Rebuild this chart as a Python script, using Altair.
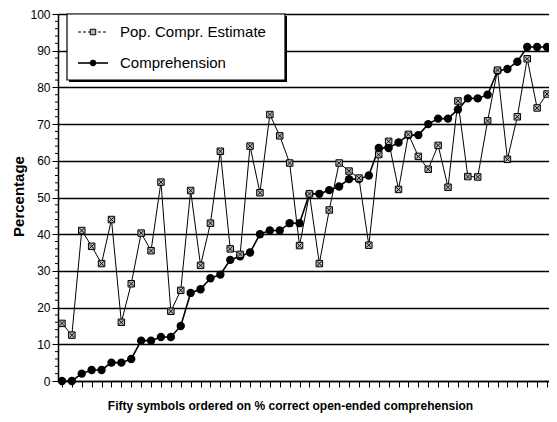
import altair as alt
import pandas as pd

symbols = list(range(1, 51))
comprehension = [0, 0, 2, 3, 3, 5, 5, 6, 11, 11,
                 12, 12, 15, 24, 25, 28, 29, 33, 34, 35,
                 40, 41, 41, 43, 43, 51, 51, 52, 53, 55,
                 55, 56, 63.5, 63.5, 65, 67, 67, 70, 71.5, 71.5,
                 74, 77, 77, 78, 84.5, 85, 87, 91, 91, 91]
pop_estimate = [15.7, 12.5, 41, 36.7, 32, 44, 16, 26.5, 40.3, 35.5,
                54.2, 19, 24.7, 51.9, 31.5, 43, 62.6, 36, 34.5, 64,
                51.3, 72.6, 66.8, 59.4, 36.9, 51, 32, 46.6, 59.4, 57.2,
                55.3, 37, 61.7, 65.3, 52.2, 67.2, 61.2, 57.7, 64.2, 52.8,
                76.3, 55.7, 55.6, 70.9, 84.7, 60.4, 72, 87.8, 74.4, 78.2]
series_names = ["Pop. Compr. Estimate", "Comprehension"]
y_major = list(range(0, 101, 10))
y_minor = [v for v in range(0, 101, 2) if v % 10]
x_title = "Fifty symbols ordered on % correct open-ended comprehension"
y_title = "Percentage"

FONT = "Liberation Sans"

df = pd.DataFrame({"symbol": symbols, "comp": comprehension, "pop": pop_estimate})
minor_df = pd.DataFrame({"v": y_minor})

xscale = alt.Scale(domain=[0.6, 50.2], nice=False, zero=False)
yscale = alt.Scale(domain=[0, 100], nice=False)

xaxis = alt.Axis(values=symbols, labels=False, grid=False, tickSize=6,
                 tickColor="black", tickWidth=1, domainColor="black", domainWidth=1.5,
                 title=x_title, titleFont=FONT, titleFontSize=12, titleFontWeight="bold",
                 titleColor="black", titleX=232, titleY=28, titleAlign="center",
                 titleBaseline="alphabetic")
yaxis = alt.Axis(values=y_major, grid=True, gridColor="black", gridWidth=1.3,
                 gridOpacity=1, tickSize=6, tickColor="black", tickWidth=1,
                 domainColor="black", domainWidth=1.5, labelFont=FONT,
                 labelFontSize=12, labelColor="black", labelPadding=2,
                 title=y_title, titleFont=FONT, titleFontSize=15,
                 titleFontWeight="bold", titleColor="black", titleAngle=270,
                 titleX=-40, titleY=182, titleAlign="center", titleBaseline="middle")


def X(field):
    return alt.X(field, type="quantitative", scale=xscale, axis=xaxis)


def Y(field):
    return alt.Y(field, type="quantitative", scale=yscale, axis=yaxis)


base = alt.Chart(df)

pop_line = base.mark_line(color="black", strokeWidth=1).encode(x=X("symbol"), y=Y("pop"))
comp_line = base.mark_line(color="black", strokeWidth=1.6).encode(x=X("symbol"), y=Y("comp"))
comp_pts = base.mark_circle(color="black", size=70, opacity=1).encode(x=X("symbol"), y=Y("comp"))
pop_sq = base.mark_point(shape="square", filled=True, fill="#b4b4b4", stroke="black",
                         strokeWidth=1, size=42, opacity=1).encode(x=X("symbol"), y=Y("pop"))
pop_x = base.mark_point(shape="M-1,-1L1,1M-1,1L1,-1", filled=False, stroke="black",
                        strokeWidth=0.9, size=22, opacity=1).encode(x=X("symbol"), y=Y("pop"))

minor = alt.Chart(minor_df).mark_rule(color="black", strokeWidth=1).encode(
    y=Y("v"), x=alt.value(-3), x2=alt.value(0))

# legend (manual)
one = pd.DataFrame({"k": [0]})
leg_shadow = alt.Chart(one).mark_rect(fill="black").encode(
    x=alt.value(11), x2=alt.value(229), y=alt.value(2), y2=alt.value(68))
leg_box = alt.Chart(one).mark_rect(fill="white", stroke="black", strokeWidth=1.2).encode(
    x=alt.value(9), x2=alt.value(227), y=alt.value(0), y2=alt.value(66))
leg_l1 = alt.Chart(one).mark_rule(color="black", strokeWidth=1, strokeDash=[3, 2]).encode(
    x=alt.value(20), x2=alt.value(50), y=alt.value(18))
leg_p1 = alt.Chart(one).mark_point(shape="square", filled=True, fill="#b4b4b4", stroke="black",
                                   strokeWidth=1, size=30, opacity=1).encode(
    x=alt.value(35), y=alt.value(18))
leg_t1 = alt.Chart(one).mark_text(align="left", baseline="middle", font=FONT, fontSize=15,
                                  color="black", text=series_names[0]).encode(
    x=alt.value(62), y=alt.value(18))
leg_l2 = alt.Chart(one).mark_rule(color="black", strokeWidth=1.6).encode(
    x=alt.value(20), x2=alt.value(50), y=alt.value(49))
leg_p2 = alt.Chart(one).mark_circle(color="black", size=40, opacity=1).encode(
    x=alt.value(35), y=alt.value(49))
leg_t2 = alt.Chart(one).mark_text(align="left", baseline="middle", font=FONT, fontSize=15,
                                  color="black", text=series_names[1]).encode(
    x=alt.value(62), y=alt.value(49))

chart = alt.layer(
    minor, pop_line, comp_line, comp_pts, pop_sq, pop_x,
    leg_shadow, leg_box, leg_l1, leg_p1, leg_t1, leg_l2, leg_p2, leg_t2
).properties(
    width=491, height=367,
    autosize=alt.AutoSizeParams(type="none"),
    padding={"left": 50, "top": 6, "right": 0, "bottom": 33},
    background="white",
).configure_view(stroke=None)

chart.save("out.html", embed_options={"renderer": "svg", "actions": False})
